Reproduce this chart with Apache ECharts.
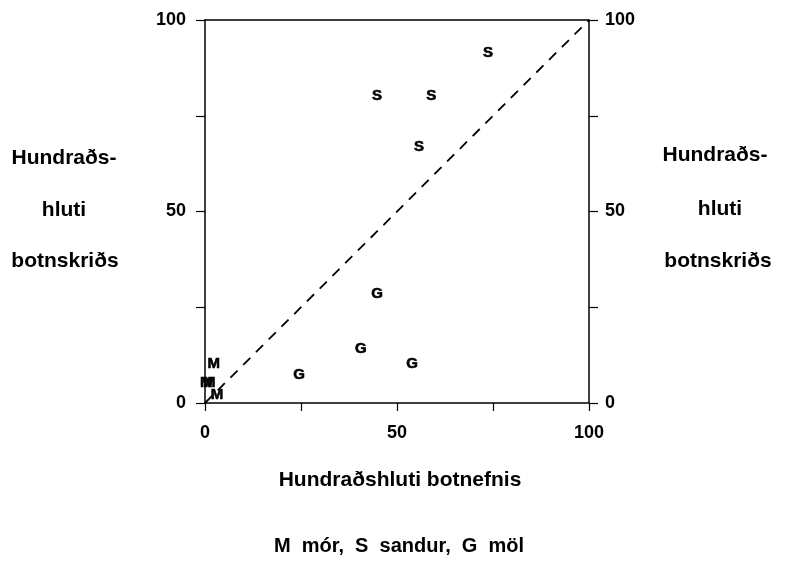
<!DOCTYPE html>
<html>
<head>
<meta charset="utf-8">
<script src="https://cdn.jsdelivr.net/npm/echarts@6/dist/echarts.min.js"></script>
<style>
  html, body { margin: 0; padding: 0; background: #fff; }
  #chart { width: 788px; height: 563px; }
</style>
</head>
<body>
<div id="chart"></div>
<script>
  // punktar: [botnefni %, botnskrið %]
  var morPoints = [[2.3, 10.2], [0.3, 5.3], [1.1, 5.3], [3.1, 2.1]]
  var sandurPoints = [[73.7, 91.4], [44.8, 80.2], [58.9, 80.2], [55.7, 66.8]]
  var molPoints = [[44.8, 28.5], [40.6, 14.1], [53.9, 10.2], [24.5, 7.3]]
  var diagonal = [[0, 0], [100, 100]]
  var tickLabels = [0, 50, 100]

  var font = "'Liberation Sans', Arial, Helvetica, sans-serif"

  function tickFormatter(v) {
    return tickLabels.indexOf(v) >= 0 ? String(v) : ''
  }

  function letterSeries(name, letter, data) {
    return {
      name: name,
      type: 'scatter',
      data: data,
      symbol: 'circle',
      symbolSize: 1,
      itemStyle: { color: 'rgba(255,255,255,0)' },
      label: {
        show: true,
        position: 'inside',
        formatter: letter,
        color: '#000',
        opacity: 1,
        textBorderColor: '#000',
        textBorderWidth: 0.6,
        fontFamily: font,
        fontWeight: 'bold',
        fontSize: 15
      },
      z: 5
    }
  }

  var axisLine = { show: true, onZero: false, lineStyle: { color: '#000', width: 1.5 } }
  var axisLabel = { color: '#000', fontFamily: font, fontWeight: 'bold', fontSize: 18, formatter: tickFormatter }

  var chart = echarts.init(document.getElementById('chart'))
  var option = {
    animation: false,
    backgroundColor: '#fff',
    grid: { left: 205, right: 199, top: 20, bottom: 160 },
    xAxis: [
      {
        type: 'value', position: 'bottom', min: 0, max: 100, interval: 25,
        axisLine: axisLine,
        axisTick: { show: true, inside: false, length: 8, lineStyle: { color: '#000', width: 1.2 } },
        axisLabel: Object.assign({ margin: 21 }, axisLabel),
        splitLine: { show: false }
      },
      {
        type: 'value', position: 'top', min: 0, max: 100,
        axisLine: axisLine,
        axisTick: { show: false },
        axisLabel: { show: false },
        splitLine: { show: false }
      }
    ],
    yAxis: [
      {
        type: 'value', position: 'left', min: 0, max: 100, interval: 25,
        axisLine: axisLine,
        axisTick: { show: true, inside: false, length: 9, lineStyle: { color: '#000', width: 1.2 } },
        axisLabel: Object.assign({ margin: 19 }, axisLabel),
        splitLine: { show: false }
      },
      {
        type: 'value', position: 'right', min: 0, max: 100, interval: 25,
        axisLine: axisLine,
        axisTick: { show: true, inside: false, length: 9, lineStyle: { color: '#000', width: 1.2 } },
        axisLabel: Object.assign({ margin: 16 }, axisLabel),
        splitLine: { show: false }
      }
    ],
    graphic: [
      { type: 'text', x: 400, y: 480, style: { text: 'Hundraðshluti botnefnis', fill: '#000', font: 'bold 21px ' + font, align: 'center', verticalAlign: 'middle' } },
      { type: 'text', x: 399, y: 546, style: { text: 'M  mór,  S  sandur,  G  möl', fill: '#000', font: 'bold 20px ' + font, align: 'center', verticalAlign: 'middle' } },
      { type: 'text', x: 64, y: 158, style: { text: 'Hundraðs-', fill: '#000', font: 'bold 21px ' + font, align: 'center', verticalAlign: 'middle' } },
      { type: 'text', x: 64, y: 210, style: { text: 'hluti', fill: '#000', font: 'bold 21px ' + font, align: 'center', verticalAlign: 'middle' } },
      { type: 'text', x: 65, y: 261, style: { text: 'botnskriðs', fill: '#000', font: 'bold 21px ' + font, align: 'center', verticalAlign: 'middle' } },
      { type: 'text', x: 715, y: 155, style: { text: 'Hundraðs-', fill: '#000', font: 'bold 21px ' + font, align: 'center', verticalAlign: 'middle' } },
      { type: 'text', x: 720, y: 209, style: { text: 'hluti', fill: '#000', font: 'bold 21px ' + font, align: 'center', verticalAlign: 'middle' } },
      { type: 'text', x: 718, y: 261, style: { text: 'botnskriðs', fill: '#000', font: 'bold 21px ' + font, align: 'center', verticalAlign: 'middle' } }
    ],
    series: [
      {
        name: 'diagonal',
        type: 'line',
        data: diagonal,
        symbol: 'none',
        lineStyle: { color: '#000', width: 1.8, type: [10, 8] },
        z: 1
      },
      letterSeries('mór', 'M', morPoints),
      letterSeries('sandur', 'S', sandurPoints),
      letterSeries('möl', 'G', molPoints)
    ]
  }
  chart.setOption(option)
</script>
</body>
</html>
